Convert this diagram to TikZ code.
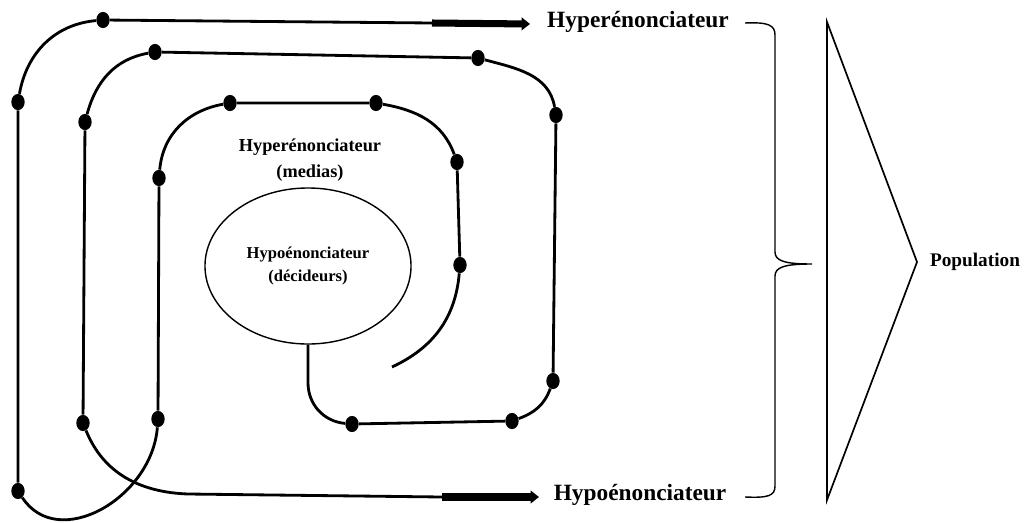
\documentclass[tikz,border=0pt]{standalone}
\usepackage{fontspec}
\setmainfont{Liberation Serif}
\usetikzlibrary{shapes.geometric, arrows.meta, positioning}

\begin{document}
\begin{tikzpicture}[
  x=0.025cm, y=0.025cm,
  dot/.style={ellipse, fill, inner sep=0pt, minimum width=9.5pt, minimum height=11.5pt},
  spiral/.style={line width=2pt},
  fat/.style={line width=5pt, -{Triangle[length=6pt,width=9pt]}},
  lab/.style={font=\bfseries, inner sep=1pt}]

  \useasboundingbox (0,0) rectangle (1029,522);

  % outer spiral, ending on the top arrow
  \node[dot] (a1) at (103,502) {};
  \node[dot] (a2) at (18,420) {};
  \node[dot] (a3) at (18,31) {};
  \node[dot] (a4) at (158,103) {};
  \node[dot] (a5) at (159,344) {};
  \node[dot] (a6) at (230,419) {};
  \node[dot] (a7) at (376,419) {};
  \node[dot] (a8) at (457,360) {};
  \node[dot] (a9) at (460,257) {};
  \coordinate (aend) at (392,155);
  \coordinate (athick) at (432,499);
  \coordinate (atip) at (530,498);

  % second spiral, from the ellipse to the bottom arrow
  \node[dot] (b1) at (352,98) {};
  \node[dot] (b2) at (512,101) {};
  \node[dot] (b3) at (553,141) {};
  \node[dot] (b4) at (556,407) {};
  \node[dot] (b5) at (478,464) {};
  \node[dot] (b6) at (155,470) {};
  \node[dot] (b7) at (85,400) {};
  \node[dot] (b8) at (83,99) {};
  \coordinate (bbend) at (188,28);
  \coordinate (bthick) at (442,25);
  \coordinate (btip) at (539,25);

  \node[ellipse, draw, line width=1pt, inner sep=0pt,
        minimum width=5.15cm, minimum height=3.9cm, align=center,
        font=\bfseries\fontsize{11.8}{16}\selectfont] (ell) at (308,256)
        {Hypoénonciateur\\(décideurs)};
  \node[lab, align=center, font=\bfseries\fontsize{13}{18}\selectfont] (medias) at (310,362)
        {Hyperénonciateur\\(medias)};

  \node[lab, font=\bfseries\fontsize{16.6}{20}\selectfont] (hyper) at (638,500) {Hyperénonciateur};
  \node[lab, font=\bfseries\fontsize{16.6}{20}\selectfont] (hypo) at (640,27) {Hypoénonciateur};
  \node[lab, font=\bfseries\fontsize{13.7}{16}\selectfont] (pop) at (975,260) {Population};

  \draw[spiral] (aend) to[out=25,in=-95] (a9) -- (a8) to[out=110,in=-10] (a7) -- (a6)
    to[out=190,in=85] (a5) -- (a4) .. controls (152,24) and (58,-30) .. (a3) -- (a2)
    to[out=80,in=185] (a1) -- (athick);
  \draw[fat] (athick) -- (atip);

  \draw[spiral] (ell.south) -- ++(0,-38) to[out=-90,in=175] (b1) -- (b2)
    to[out=20,in=-110] (b3) -- (b4) to[out=100,in=-15] (b5) -- (b6)
    to[out=190,in=75] (b7) -- (b8) to[out=-68,in=178] (bbend) -- (bthick);
  \draw[fat] (bthick) -- (btip);

  % brace
  \coordinate (br1) at (745,499);
  \coordinate (br2) at (812,258);
  \coordinate (br3) at (745,25);
  \draw[line width=1pt] (br1) .. controls (768,500) and (775,497) .. (775,487)
    -- (775,270) .. controls (775,261) and (785,258) .. (br2)
    .. controls (785,258) and (775,255) .. (775,246)
    -- (775,36) .. controls (775,26) and (768,24) .. (br3);

  % triangle
  \draw[line width=1.2pt] (827,500) -- (917,260) -- (827,22) -- cycle;
\end{tikzpicture}
\end{document}
